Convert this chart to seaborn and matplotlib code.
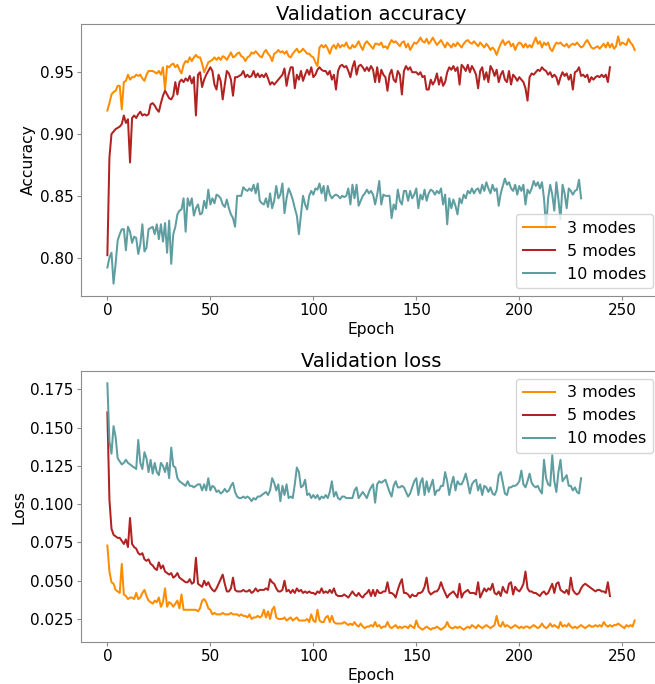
import numpy as np
import pandas as pd
import matplotlib
matplotlib.use("Agg")
import matplotlib.pyplot as plt
import seaborn as sns

labels = ["3 modes", "5 modes", "10 modes"]
colors = ["darkorange", "firebrick", "cadetblue"]

acc3 = [
    0.919, 0.925, 0.932, 0.934, 0.935, 0.939, 0.939, 0.920, 0.942, 0.943,
    0.948, 0.944, 0.946, 0.946, 0.948, 0.947, 0.948, 0.945, 0.943, 0.948,
    0.951, 0.951, 0.951, 0.950, 0.949, 0.951, 0.948, 0.954, 0.936, 0.955,
    0.954, 0.956, 0.957, 0.954, 0.956, 0.952, 0.949, 0.956, 0.959, 0.958,
    0.962, 0.959, 0.962, 0.964, 0.962, 0.962, 0.957, 0.950, 0.954, 0.958,
    0.959, 0.960, 0.962, 0.960, 0.962, 0.960, 0.963, 0.962, 0.960, 0.963,
    0.966, 0.962, 0.963, 0.965, 0.966, 0.963, 0.962, 0.959, 0.962, 0.963,
    0.966, 0.965, 0.967, 0.965, 0.963, 0.962, 0.966, 0.968, 0.965, 0.963,
    0.959, 0.965, 0.966, 0.968, 0.966, 0.967, 0.965, 0.967, 0.963, 0.962,
    0.965, 0.967, 0.969, 0.966, 0.967, 0.969, 0.967, 0.965, 0.965, 0.963,
    0.962, 0.958, 0.955, 0.970, 0.972, 0.970, 0.972, 0.969, 0.965, 0.970,
    0.972, 0.969, 0.973, 0.970, 0.972, 0.971, 0.974, 0.970, 0.969, 0.972,
    0.970, 0.972, 0.975, 0.971, 0.968, 0.973, 0.975, 0.973, 0.971, 0.969,
    0.973, 0.973, 0.972, 0.974, 0.970, 0.971, 0.969, 0.973, 0.976, 0.974,
    0.975, 0.973, 0.971, 0.974, 0.975, 0.970, 0.973, 0.968, 0.971, 0.974,
    0.973, 0.975, 0.978, 0.975, 0.974, 0.977, 0.973, 0.975, 0.978, 0.975,
    0.972, 0.974, 0.976, 0.973, 0.970, 0.974, 0.972, 0.970, 0.973, 0.971,
    0.974, 0.972, 0.970, 0.973, 0.975, 0.976, 0.974, 0.973, 0.975, 0.973,
    0.971, 0.974, 0.972, 0.970, 0.973, 0.971, 0.968, 0.970, 0.968, 0.964,
    0.969, 0.973, 0.976, 0.972, 0.974, 0.975, 0.971, 0.973, 0.968, 0.972,
    0.974, 0.973, 0.970, 0.973, 0.970, 0.972, 0.970, 0.974, 0.978, 0.973,
    0.975, 0.970, 0.974, 0.972, 0.974, 0.969, 0.967, 0.971, 0.974, 0.973,
    0.974, 0.972, 0.971, 0.973, 0.970, 0.972, 0.973, 0.972, 0.974, 0.972,
    0.970, 0.971, 0.974, 0.976, 0.973, 0.970, 0.969, 0.970, 0.971, 0.969,
    0.971, 0.973, 0.970, 0.974, 0.970, 0.973, 0.969, 0.971, 0.979, 0.972,
    0.974, 0.973, 0.972, 0.977, 0.974, 0.972, 0.968,
]

acc5 = [
    0.802, 0.881, 0.900, 0.902, 0.904, 0.905, 0.906, 0.908, 0.915, 0.909,
    0.912, 0.877, 0.913, 0.915, 0.913, 0.916, 0.918, 0.915, 0.916, 0.915,
    0.916, 0.924, 0.925, 0.923, 0.920, 0.918, 0.925, 0.931, 0.935, 0.932,
    0.929, 0.928, 0.931, 0.942, 0.932, 0.942, 0.944, 0.942, 0.945, 0.943,
    0.947, 0.941, 0.946, 0.915, 0.948, 0.950, 0.938, 0.944, 0.948, 0.951,
    0.954, 0.951, 0.940, 0.936, 0.948, 0.943, 0.928, 0.940, 0.951, 0.949,
    0.944, 0.931, 0.946, 0.946, 0.947, 0.948, 0.951, 0.946, 0.948, 0.946,
    0.947, 0.951, 0.946, 0.949, 0.946, 0.948, 0.946, 0.949, 0.945, 0.940,
    0.942, 0.940, 0.942, 0.944, 0.946, 0.948, 0.953, 0.939, 0.948, 0.954,
    0.954, 0.937, 0.948, 0.944, 0.951, 0.943, 0.948, 0.952, 0.948, 0.954,
    0.946, 0.948, 0.952, 0.954, 0.952, 0.951, 0.951, 0.948, 0.951, 0.944,
    0.948, 0.936, 0.951, 0.955, 0.956, 0.954, 0.955, 0.951, 0.946, 0.954,
    0.959, 0.948, 0.955, 0.956, 0.954, 0.951, 0.954, 0.951, 0.955, 0.952,
    0.942, 0.954, 0.942, 0.952, 0.948, 0.946, 0.935, 0.948, 0.952, 0.944,
    0.942, 0.951, 0.948, 0.932, 0.951, 0.955, 0.952, 0.954, 0.950, 0.950,
    0.950, 0.948, 0.950, 0.946, 0.947, 0.936, 0.936, 0.944, 0.940, 0.943,
    0.949, 0.940, 0.946, 0.939, 0.942, 0.950, 0.954, 0.952, 0.955, 0.951,
    0.954, 0.940, 0.956, 0.954, 0.951, 0.956, 0.950, 0.955, 0.952, 0.948,
    0.937, 0.951, 0.954, 0.944, 0.950, 0.942, 0.955, 0.952, 0.947, 0.952,
    0.942, 0.948, 0.951, 0.944, 0.942, 0.951, 0.940, 0.948, 0.946, 0.943,
    0.946, 0.944, 0.942, 0.937, 0.927, 0.946, 0.949, 0.948, 0.950, 0.952,
    0.951, 0.954, 0.952, 0.951, 0.948, 0.950, 0.946, 0.948, 0.946, 0.940,
    0.946, 0.950, 0.947, 0.949, 0.944, 0.948, 0.936, 0.950, 0.951, 0.954,
    0.947, 0.948, 0.946, 0.948, 0.942, 0.946, 0.944, 0.946, 0.947, 0.946,
    0.948, 0.946, 0.948, 0.942, 0.954,
]

acc10 = [
    0.792, 0.800, 0.804, 0.779, 0.795, 0.814, 0.819, 0.823, 0.823, 0.806,
    0.825, 0.821, 0.812, 0.817, 0.816, 0.803, 0.811, 0.827, 0.805, 0.808,
    0.823, 0.824, 0.825, 0.819, 0.827, 0.815, 0.827, 0.813, 0.828, 0.804,
    0.830, 0.795, 0.819, 0.825, 0.835, 0.838, 0.839, 0.848, 0.821, 0.848,
    0.842, 0.848, 0.834, 0.840, 0.843, 0.835, 0.836, 0.846, 0.840, 0.855,
    0.843, 0.848, 0.844, 0.851, 0.850, 0.848, 0.843, 0.841, 0.847, 0.840,
    0.835, 0.832, 0.825, 0.850, 0.850, 0.850, 0.857, 0.855, 0.854, 0.856,
    0.854, 0.859, 0.852, 0.860, 0.846, 0.844, 0.843, 0.848, 0.841, 0.852,
    0.840, 0.846, 0.858, 0.848, 0.851, 0.860, 0.836, 0.848, 0.856, 0.852,
    0.847, 0.840, 0.834, 0.819, 0.835, 0.850, 0.843, 0.839, 0.850, 0.854,
    0.851, 0.856, 0.855, 0.860, 0.852, 0.858, 0.846, 0.858, 0.851, 0.848,
    0.850, 0.851, 0.850, 0.848, 0.850, 0.849, 0.850, 0.856, 0.843, 0.859,
    0.848, 0.859, 0.842, 0.846, 0.850, 0.852, 0.855, 0.852, 0.854, 0.851,
    0.843, 0.851, 0.862, 0.843, 0.851, 0.850, 0.850, 0.850, 0.832, 0.843,
    0.839, 0.855, 0.846, 0.843, 0.854, 0.854, 0.846, 0.854, 0.848, 0.851,
    0.856, 0.840, 0.851, 0.847, 0.855, 0.846, 0.852, 0.855, 0.854, 0.851,
    0.854, 0.852, 0.856, 0.843, 0.851, 0.827, 0.848, 0.840, 0.847, 0.842,
    0.835, 0.848, 0.844, 0.851, 0.848, 0.854, 0.852, 0.856, 0.852, 0.855,
    0.856, 0.852, 0.859, 0.854, 0.861, 0.856, 0.852, 0.859, 0.854, 0.856,
    0.842, 0.852, 0.858, 0.864, 0.859, 0.861, 0.856, 0.854, 0.859, 0.851,
    0.858, 0.854, 0.859, 0.843, 0.855, 0.852, 0.856, 0.862, 0.858, 0.861,
    0.856, 0.861, 0.848, 0.824, 0.848, 0.859, 0.851, 0.838, 0.861, 0.847,
    0.831, 0.859, 0.852, 0.840, 0.856, 0.854, 0.851, 0.854, 0.855, 0.863,
    0.848,
]

loss3 = [
    0.073, 0.056, 0.049, 0.048, 0.044, 0.043, 0.042, 0.061, 0.041, 0.040,
    0.038, 0.039, 0.039, 0.038, 0.042, 0.038, 0.039, 0.042, 0.044, 0.040,
    0.037, 0.036, 0.035, 0.037, 0.036, 0.039, 0.033, 0.036, 0.045, 0.033,
    0.036, 0.035, 0.033, 0.035, 0.037, 0.032, 0.041, 0.031, 0.031, 0.031,
    0.031, 0.031, 0.031, 0.031, 0.030, 0.032, 0.037, 0.038, 0.036, 0.032,
    0.031, 0.028, 0.029, 0.028, 0.028, 0.028, 0.029, 0.028, 0.028, 0.028,
    0.029, 0.028, 0.028, 0.028, 0.027, 0.028, 0.027, 0.027, 0.026, 0.028,
    0.025, 0.026, 0.026, 0.027, 0.026, 0.027, 0.031, 0.026, 0.030, 0.025,
    0.031, 0.033, 0.026, 0.025, 0.025, 0.025, 0.026, 0.024, 0.025, 0.026,
    0.024, 0.025, 0.026, 0.024, 0.024, 0.024, 0.024, 0.025, 0.023, 0.028,
    0.024, 0.023, 0.031, 0.024, 0.023, 0.023, 0.026, 0.027, 0.023, 0.027,
    0.023, 0.022, 0.022, 0.022, 0.022, 0.023, 0.022, 0.021, 0.022, 0.021,
    0.023, 0.021, 0.020, 0.022, 0.020, 0.019, 0.020, 0.020, 0.021, 0.020,
    0.023, 0.020, 0.021, 0.019, 0.020, 0.020, 0.023, 0.020, 0.019, 0.020,
    0.021, 0.019, 0.020, 0.019, 0.020, 0.020, 0.019, 0.021, 0.020, 0.019,
    0.024, 0.020, 0.019, 0.018, 0.019, 0.020, 0.019, 0.018, 0.019, 0.019,
    0.020, 0.019, 0.018, 0.019, 0.020, 0.023, 0.020, 0.019, 0.019, 0.020,
    0.019, 0.020, 0.019, 0.018, 0.019, 0.020, 0.019, 0.021, 0.020, 0.019,
    0.021, 0.020, 0.019, 0.020, 0.021, 0.020, 0.019, 0.020, 0.021, 0.027,
    0.021, 0.020, 0.023, 0.020, 0.021, 0.020, 0.019, 0.020, 0.021, 0.020,
    0.019, 0.020, 0.019, 0.020, 0.020, 0.019, 0.020, 0.021, 0.020, 0.019,
    0.020, 0.022, 0.020, 0.019, 0.020, 0.022, 0.020, 0.021, 0.020, 0.019,
    0.023, 0.020, 0.021, 0.020, 0.022, 0.020, 0.019, 0.020, 0.019, 0.020,
    0.021, 0.020, 0.019, 0.020, 0.021, 0.020, 0.020, 0.021, 0.020, 0.021,
    0.020, 0.023, 0.021, 0.020, 0.021, 0.020, 0.021, 0.021, 0.022, 0.021,
    0.020, 0.019, 0.021, 0.020, 0.021, 0.020, 0.024,
]

loss5 = [
    0.160, 0.103, 0.084, 0.080, 0.079, 0.078, 0.078, 0.076, 0.074, 0.077,
    0.072, 0.091, 0.074, 0.072, 0.071, 0.068, 0.067, 0.068, 0.064, 0.063,
    0.064, 0.061, 0.060, 0.058, 0.057, 0.062, 0.058, 0.060, 0.056, 0.055,
    0.054, 0.055, 0.052, 0.053, 0.055, 0.052, 0.051, 0.050, 0.049, 0.049,
    0.051, 0.048, 0.049, 0.065, 0.048, 0.047, 0.046, 0.050, 0.047, 0.049,
    0.046, 0.044, 0.043, 0.045, 0.048, 0.051, 0.054, 0.048, 0.043, 0.043,
    0.045, 0.052, 0.044, 0.043, 0.043, 0.043, 0.044, 0.043, 0.043, 0.044,
    0.042, 0.043, 0.045, 0.043, 0.044, 0.044, 0.044, 0.045, 0.044, 0.051,
    0.049, 0.048, 0.045, 0.043, 0.043, 0.044, 0.050, 0.043, 0.044, 0.042,
    0.044, 0.042, 0.045, 0.043, 0.044, 0.042, 0.043, 0.042, 0.043, 0.042,
    0.042, 0.041, 0.043, 0.042, 0.045, 0.042, 0.043, 0.042, 0.044, 0.042,
    0.045, 0.041, 0.040, 0.040, 0.040, 0.041, 0.040, 0.039, 0.041, 0.043,
    0.041, 0.040, 0.042, 0.040, 0.039, 0.041, 0.042, 0.044, 0.040, 0.044,
    0.040, 0.044, 0.042, 0.042, 0.043, 0.043, 0.049, 0.042, 0.042, 0.041,
    0.039, 0.044, 0.048, 0.051, 0.042, 0.042, 0.041, 0.039, 0.041, 0.040,
    0.040, 0.042, 0.042, 0.043, 0.046, 0.052, 0.043, 0.041, 0.042, 0.043,
    0.043, 0.045, 0.049, 0.045, 0.042, 0.039, 0.041, 0.042, 0.043, 0.041,
    0.039, 0.048, 0.039, 0.042, 0.043, 0.044, 0.042, 0.042, 0.042, 0.041,
    0.049, 0.039, 0.042, 0.045, 0.043, 0.045, 0.044, 0.048, 0.042, 0.041,
    0.043, 0.040, 0.046, 0.043, 0.042, 0.048, 0.049, 0.041, 0.046, 0.044,
    0.043, 0.045, 0.048, 0.056, 0.045, 0.043, 0.043, 0.042, 0.042, 0.041,
    0.040, 0.042, 0.043, 0.041, 0.042, 0.045, 0.048, 0.042, 0.048, 0.049,
    0.044, 0.043, 0.042, 0.044, 0.041, 0.052, 0.044, 0.042, 0.041, 0.042,
    0.045, 0.047, 0.048, 0.047, 0.046, 0.045, 0.044, 0.043, 0.044, 0.044,
    0.043, 0.043, 0.042, 0.049, 0.040,
]

loss10 = [
    0.179, 0.141, 0.133, 0.151, 0.144, 0.130, 0.128, 0.126, 0.127, 0.129,
    0.127, 0.126, 0.125, 0.124, 0.123, 0.142, 0.127, 0.123, 0.134, 0.130,
    0.121, 0.129, 0.120, 0.127, 0.121, 0.119, 0.127, 0.125, 0.121, 0.127,
    0.117, 0.137, 0.125, 0.124, 0.117, 0.115, 0.114, 0.113, 0.112, 0.115,
    0.112, 0.112, 0.111, 0.112, 0.113, 0.113, 0.109, 0.113, 0.109, 0.117,
    0.109, 0.112, 0.111, 0.108, 0.109, 0.107, 0.108, 0.110, 0.108, 0.109,
    0.112, 0.114, 0.108, 0.105, 0.104, 0.104, 0.105, 0.104, 0.105, 0.104,
    0.102, 0.104, 0.103, 0.105, 0.105, 0.106, 0.107, 0.108, 0.106, 0.109,
    0.117, 0.114, 0.109, 0.113, 0.102, 0.112, 0.106, 0.113, 0.104, 0.105,
    0.104, 0.113, 0.124, 0.121, 0.111, 0.112, 0.116, 0.106, 0.107, 0.104,
    0.106, 0.104, 0.106, 0.103, 0.105, 0.104, 0.106, 0.104, 0.108, 0.115,
    0.105, 0.108, 0.104, 0.103, 0.105, 0.105, 0.104, 0.104, 0.104, 0.104,
    0.109, 0.111, 0.104, 0.106, 0.108, 0.106, 0.104, 0.108, 0.111, 0.113,
    0.101, 0.113, 0.115, 0.114, 0.115, 0.116, 0.112, 0.108, 0.105, 0.112,
    0.115, 0.111, 0.111, 0.112, 0.111, 0.108, 0.105, 0.107, 0.111, 0.115,
    0.117, 0.106, 0.114, 0.117, 0.106, 0.115, 0.108, 0.112, 0.116, 0.106,
    0.109, 0.109, 0.112, 0.112, 0.121, 0.115, 0.106, 0.113, 0.118, 0.109,
    0.115, 0.113, 0.113, 0.116, 0.120, 0.114, 0.107, 0.113, 0.115, 0.116,
    0.109, 0.113, 0.106, 0.112, 0.111, 0.108, 0.111, 0.107, 0.106, 0.109,
    0.119, 0.121, 0.114, 0.107, 0.106, 0.111, 0.111, 0.112, 0.112, 0.113,
    0.115, 0.122, 0.113, 0.111, 0.115, 0.120, 0.114, 0.112, 0.111, 0.112,
    0.109, 0.107, 0.129, 0.117, 0.113, 0.112, 0.132, 0.115, 0.108, 0.121,
    0.129, 0.115, 0.117, 0.119, 0.112, 0.112, 0.109, 0.111, 0.108, 0.107,
    0.117,
]

acc_series = [acc3, acc5, acc10]
loss_series = [loss3, loss5, loss10]

plt.rcParams.update({
    "font.family": ["DejaVu Sans"],
    "axes.edgecolor": "#8c8c8c",
    "axes.linewidth": 0.8,
    "xtick.color": "#8c8c8c",
    "ytick.color": "#8c8c8c",
    "xtick.labelcolor": "black",
    "ytick.labelcolor": "black",
    "xtick.major.size": 2.6,
    "ytick.major.size": 2.6,
    "xtick.major.pad": 2.6,
    "ytick.major.pad": 2.6,
    "xtick.labelsize": 11,
    "ytick.labelsize": 11,
    "axes.labelsize": 11.2,
    "axes.titlesize": 14,
    "axes.labelpad": 2.9,
    "axes.titlepad": 2.6,
    "legend.fontsize": 11.5,
})

W, H = 655, 684
fig = plt.figure(figsize=(W / 100, H / 100), dpi=100)
ax1 = fig.add_axes([81 / W, 1 - 296 / H, (661 - 81) / W, (296 - 24) / H])
ax2 = fig.add_axes([81 / W, 1 - 642 / H, (661 - 81) / W, (642 - 371) / H])

for vals, lab, col in zip(acc_series, labels, colors):
    sns.lineplot(x=np.arange(len(vals)), y=vals, color=col, label=lab, ax=ax1, linewidth=1.45)
for vals, lab, col in zip(loss_series, labels, colors):
    sns.lineplot(x=np.arange(len(vals)), y=vals, color=col, label=lab, ax=ax2, linewidth=1.45)

ax1.set_title("Validation accuracy")
ax1.set_xlabel("Epoch")
ax1.set_ylabel("Accuracy")
ax1.legend(loc="lower right")

ax2.set_title("Validation loss")
ax2.set_xlabel("Epoch")
ax2.set_ylabel("Loss")
ax2.legend(loc="upper right")

for ax in (ax1, ax2):
    ax.set_xticks([0, 50, 100, 150, 200, 250])

fig.savefig("out.png", dpi=100)
